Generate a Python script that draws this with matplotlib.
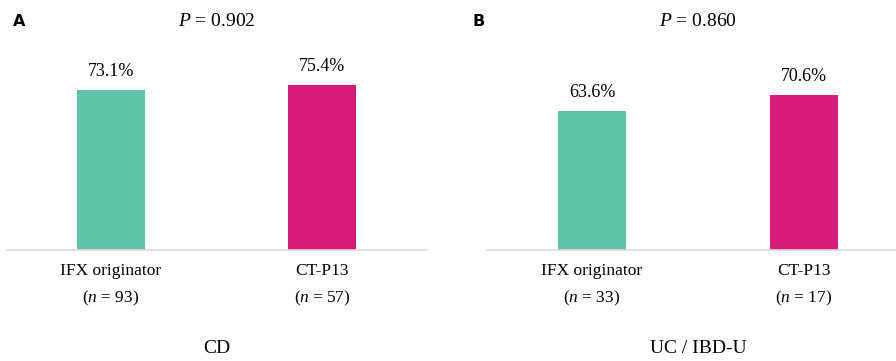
import matplotlib.pyplot as plt

plt.rcParams['font.family'] = 'Liberation Serif'
plt.rcParams['mathtext.fontset'] = 'custom'
plt.rcParams['mathtext.rm'] = 'Liberation Serif'
plt.rcParams['mathtext.it'] = 'Liberation Serif:italic'

groups = ['IFX originator', 'CT-P13']
colors = ['#5fc2aa', '#d81b78']

cd_values = [73.1, 75.4]
cd_n = [93, 57]
cd_p = '0.902'

uc_values = [63.6, 70.6]
uc_n = [33, 17]
uc_p = '0.860'

fig = plt.figure(figsize=(8.96, 3.61), dpi=100)
axA = fig.add_axes([7/896, 111/361, 420/896, 219/361])
axB = fig.add_axes([487/896, 111/361, 409/896, 219/361])


def panel(ax, values, ns, p, title, letter, xlim, letter_x):
    ax.bar(range(len(values)), values, width=0.32, color=colors)
    ax.set_xlim(*xlim)
    ax.set_ylim(0, 100)
    for s in ['top', 'right', 'left']:
        ax.spines[s].set_visible(False)
    ax.spines['bottom'].set_color('#d9d9d9')
    ax.spines['bottom'].set_linewidth(1.2)
    ax.set_xticks([])
    ax.set_yticks([])
    tr = ax.get_xaxis_transform()
    for i, v in enumerate(values):
        ax.annotate(f'{v:.1f}%', (i, v), xytext=(0, 10), textcoords='offset points',
                    ha='center', va='baseline', fontsize=13)
        ax.text(i, -0.114, groups[i], transform=tr, ha='center', va='baseline', fontsize=12.5)
        ax.text(i, -0.237, f'($n$ = {ns[i]})', transform=tr, ha='center', va='baseline', fontsize=12.5)
    ax.text(0.5, 1.023, f'$P$ = {p}', transform=tr, ha='center', va='baseline', fontsize=14)
    ax.text(0.5, -0.47, title, transform=tr, ha='center', va='baseline', fontsize=14)
    fig.text(letter_x / 896, 1 - 26 / 361, letter, fontsize=11.5, fontweight='bold',
             family='DejaVu Sans', ha='left', va='baseline')


panel(axA, cd_values, cd_n, cd_p, 'CD', 'A', (-0.493, 1.498), 13)
panel(axB, uc_values, uc_n, uc_p, 'UC / IBD-U', 'B', (-0.495, 1.434), 472)

fig.savefig('out.png', dpi=100)
